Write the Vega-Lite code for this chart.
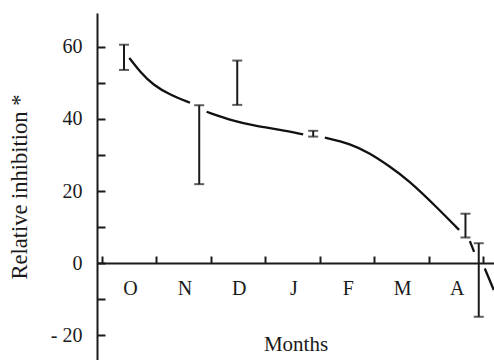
{
  "$schema": "https://vega.github.io/schema/vega-lite/v6.json",
  "width": 397,
  "height": 347,
  "autosize": {"type": "none"},
  "padding": {"left": 97, "top": 13, "right": 0, "bottom": 0},
  "background": "white",
  "config": {"view": {"stroke": null}, "font": "Liberation Serif"},
  "datasets": {
    "curve": [
      {"segment": 1, "month": 0.503, "inhibition": 56.9},
      {"segment": 1, "month": 0.699, "inhibition": 53.1},
      {"segment": 1, "month": 0.943, "inhibition": 49.4},
      {"segment": 1, "month": 1.25, "inhibition": 46.7},
      {"segment": 1, "month": 1.617, "inhibition": 44.5},
      {"segment": 2, "month": 1.923, "inhibition": 42.0},
      {"segment": 2, "month": 2.411, "inhibition": 39.4},
      {"segment": 2, "month": 2.841, "inhibition": 38.0},
      {"segment": 2, "month": 3.268, "inhibition": 37.0},
      {"segment": 2, "month": 3.696, "inhibition": 35.7},
      {"segment": 3, "month": 4.094, "inhibition": 34.8},
      {"segment": 3, "month": 4.553, "inhibition": 33.2},
      {"segment": 3, "month": 4.92, "inhibition": 30.5},
      {"segment": 3, "month": 5.287, "inhibition": 26.8},
      {"segment": 3, "month": 5.623, "inhibition": 23.1},
      {"segment": 3, "month": 6.144, "inhibition": 15.6},
      {"segment": 3, "month": 6.559, "inhibition": 9.2},
      {"segment": 4, "month": 6.757, "inhibition": 6.1},
      {"segment": 4, "month": 6.835, "inhibition": 3.1},
      {"segment": 5, "month": 7.031, "inhibition": -1.5},
      {"segment": 5, "month": 7.196, "inhibition": -7.5}
    ],
    "bars": [
      {"month": 0.406, "inhibition": 53.6, "high": 60.6},
      {"month": 1.787, "inhibition": 21.9, "high": 43.8},
      {"month": 2.485, "inhibition": 43.9, "high": 56.2},
      {"month": 3.88, "inhibition": 35.1, "high": 36.7},
      {"month": 6.676, "inhibition": 7.1, "high": 13.7},
      {"month": 6.92, "inhibition": -14.9, "high": 5.5}
    ]
  },
  "encoding": {
    "x": {
      "field": "month",
      "type": "quantitative",
      "scale": {"domain": [-0.09, 7.2], "nice": false, "zero": false},
      "axis": {
        "orient": "bottom",
        "offset": -97,
        "values": [0, 1, 2, 3, 4, 5, 6, 7],
        "labelExpr": "['O','N','D','J','F','M','A',''][datum.value]",
        "labelOffset": 28,
        "labelFont": "Liberation Serif",
        "labelFontSize": 20,
        "labelColor": "#1a1a1a",
        "labelPadding": 22,
        "tickSize": -7,
        "tickWidth": 2,
        "tickColor": "#1a1a1a",
        "domainColor": "#1a1a1a",
        "domainWidth": 2,
        "grid": false,
        "title": "Months",
        "titleFont": "Liberation Serif",
        "titleFontSize": 21,
        "titleFontWeight": "normal",
        "titleColor": "#1a1a1a",
        "titlePadding": 35
      }
    },
    "y": {
      "field": "inhibition",
      "type": "quantitative",
      "scale": {"domain": [-26.9, 69.4], "nice": false, "zero": false},
      "axis": {
        "values": [-20, -10, 0, 10, 20, 30, 40, 50, 60],
        "labelExpr": "datum.value % 20 == 0 ? (datum.value < 0 ? '- ' + abs(datum.value) : datum.label) : ''",
        "labelFont": "Liberation Serif",
        "labelFontSize": 20,
        "labelColor": "#1a1a1a",
        "labelPadding": 23,
        "tickSize": -8,
        "tickWidth": 2,
        "tickColor": "#1a1a1a",
        "domainColor": "#1a1a1a",
        "domainWidth": 2,
        "grid": false,
        "title": "Relative  inhibition *",
        "titleFont": "Liberation Serif",
        "titleFontSize": 22.5,
        "titleFontWeight": "normal",
        "titleColor": "#1a1a1a",
        "titlePadding": 19
      }
    }
  },
  "layer": [
    {
      "data": {"name": "curve"},
      "mark": {"type": "line", "interpolate": "basis", "color": "#111111", "strokeWidth": 2.3},
      "encoding": {"detail": {"field": "segment", "type": "nominal"}}
    },
    {
      "data": {"name": "bars"},
      "mark": {
        "type": "errorbar",
        "ticks": {"size": 10, "thickness": 2, "color": "#1a1a1a"},
        "rule": {"strokeWidth": 2, "color": "#1a1a1a"}
      },
      "encoding": {"y2": {"field": "high"}}
    }
  ]
}
